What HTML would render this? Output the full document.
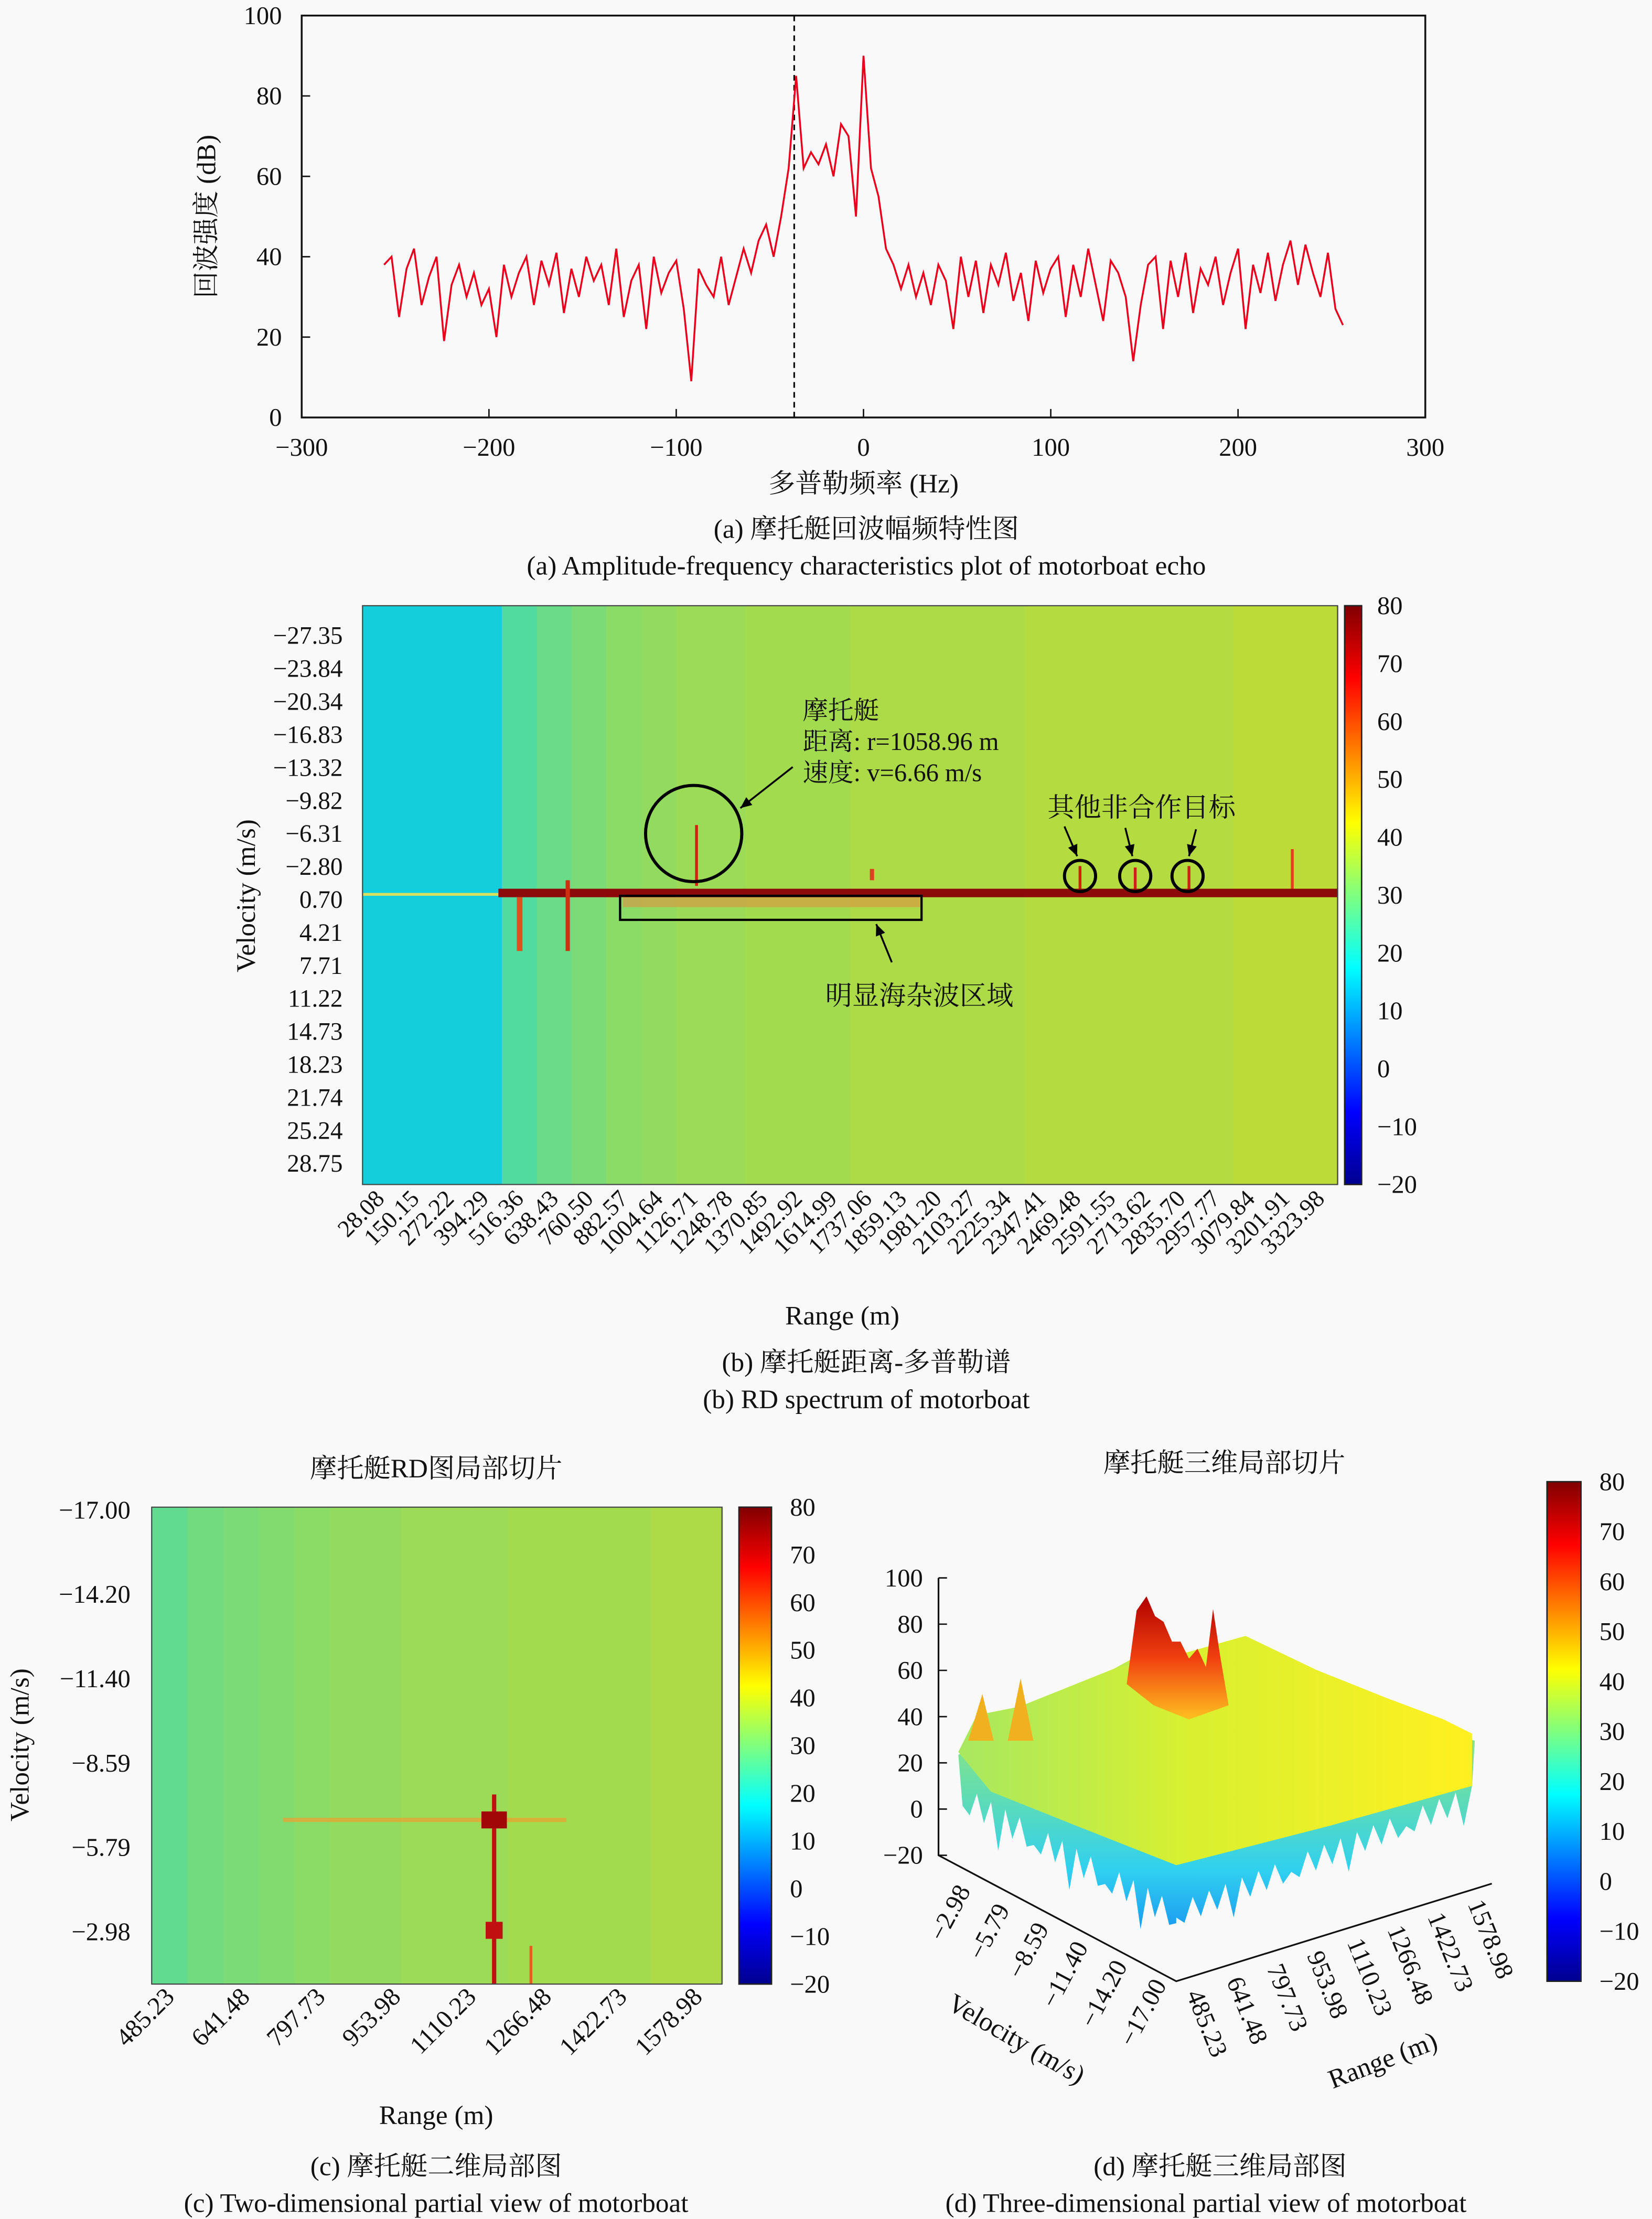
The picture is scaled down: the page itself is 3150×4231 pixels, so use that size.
<!DOCTYPE html>
<html><head><meta charset="utf-8"><style>
html,body{margin:0;padding:0;background:#f9f9f9;}
svg{display:block;}
text{font-family:"Liberation Serif","Noto Serif CJK SC",serif;fill:#111;}
</style></head><body>
<svg id="root" width="3150" height="4231" viewBox="0 0 1167 1568" xmlns="http://www.w3.org/2000/svg">
<defs>
<linearGradient id="jet" x1="0" y1="0" x2="0" y2="1">
<stop offset="0" stop-color="#800000"/><stop offset="0.125" stop-color="#ff0000"/><stop offset="0.375" stop-color="#ffff00"/><stop offset="0.625" stop-color="#00ffff"/><stop offset="0.875" stop-color="#0000ff"/><stop offset="1" stop-color="#00008f"/>
</linearGradient>
<linearGradient id="topface" x1="0" y1="0" x2="1" y2="0">
<stop offset="0" stop-color="#a8e860"/><stop offset="0.45" stop-color="#d8f030"/><stop offset="1" stop-color="#fff020"/>
</linearGradient>
<linearGradient id="skirt" x1="0" y1="0" x2="0" y2="1">
<stop offset="0" stop-color="#c0ec48"/><stop offset="0.4" stop-color="#70e0a0"/><stop offset="0.75" stop-color="#30d0f0"/><stop offset="1" stop-color="#1890f0"/>
</linearGradient>
<linearGradient id="peak" x1="0" y1="0" x2="0" y2="1">
<stop offset="0" stop-color="#b00000"/><stop offset="0.5" stop-color="#f04010"/><stop offset="1" stop-color="#ffc020"/>
</linearGradient>
</defs>
<g id="pa"></g>
<g id="pb"></g>
<g id="pc"></g>
<g id="pd"></g>
</svg>
<script>
// ---------- data ----------
const freqStart = -256, freqStep = 4;
const amplitude = [38,40,25,37,42,28,35,40,19,33,38,30,36,28,32,
20,38,30,36,40,28,39,33,41,26,37,30,40,34,38,
28,42,25,34,38,22,40,31,36,39,27,9,37,33,30,
40,28,35,42,36,44,48,40,50,62,85,62,66,63,68,
60,73,70,50,90,62,55,42,38,32,38,30,36,28,38,
34,22,40,30,39,26,38,33,41,29,36,24,39,31,37,
40,25,38,30,42,33,24,39,36,30,14,28,38,40,22,
39,30,41,26,37,33,40,28,36,42,22,38,31,41,29,
38,44,33,43,36,30,41,27,23];
const xTicksA = [-300,-200,-100,0,100,200,300];
const yTicksA = [0,20,40,60,80,100];
const markerFreq = -37;
const velLabelsB = ["−27.35","−23.84","−20.34","−16.83","−13.32","−9.82","−6.31","−2.80","0.70","4.21","7.71","11.22","14.73","18.23","21.74","25.24","28.75"];
const rangeLabelsB = ["28.08","150.15","272.22","394.29","516.36","638.43","760.50","882.57","1004.64","1126.71","1248.78","1370.85","1492.92","1614.99","1737.06","1859.13","1981.20","2103.27","2225.34","2347.41","2469.48","2591.55","2713.62","2835.70","2957.77","3079.84","3201.91","3323.98"];
const columnMeanB = [16,16,16,16,25,28,30,32,33,34,34,35,35,35,36,36,36,36,36,37,37,37,37,37,37,38,38,38];
const cbTicks = [80,70,60,50,40,30,20,10,0,-10,-20];
const velLabelsC = ["−17.00","−14.20","−11.40","−8.59","−5.79","−2.98"];
const rangeLabelsC = ["485.23","641.48","797.73","953.98","1110.23","1266.48","1422.73","1578.98"];
const columnMeanC = [27,29,30,31,32,33,33,34,34,34,35,35,35,35,36,36];
const zTicksD = [100,80,60,40,20,0,-20];
const velLabelsD = ["−2.98","−5.79","−8.59","−11.40","−14.20","−17.00"];

const NS="http://www.w3.org/2000/svg";
function mk(parent,tag,attrs,txt){const e=document.createElementNS(NS,tag);for(const k in attrs)e.setAttribute(k,attrs[k]);if(txt!==undefined)e.textContent=txt;parent.appendChild(e);return e;}
function jet(v){const t=Math.max(0,Math.min(1,(v+20)/100));const c=x=>255*Math.max(0,Math.min(1,x));
 const m=x=>Math.round(0.85*x+0.15*128);
 return `rgb(${m(c(1.5-Math.abs(4*t-3))*0.95)},${m(c(1.5-Math.abs(4*t-2))*0.92)},${m(c(1.5-Math.abs(4*t-1))*0.92)})`;}

// ---------- panel (a) ----------
const pa=document.getElementById('pa');
const AX0=213,AX1=1007,AY0=295,AY1=11;
const ax=f=>AX0+(f+300)/600*(AX1-AX0);
const ay=v=>AY0-v/100*(AY0-AY1);
let fr=mk(pa,'rect',{x:AX0,y:AY1,width:AX1-AX0,height:AY0-AY1,fill:'none',stroke:'#111','stroke-width':1.3});

xTicksA.forEach(t=>{const l=mk(pa,'line',{x1:ax(t),x2:ax(t),y1:AY0,y2:AY0-6,stroke:'#111','stroke-width':1});

const tx=mk(pa,'text',{x:ax(t),y:AY0+27,'font-size':18,'text-anchor':'middle'},t<0?'−'+(-t):String(t));
});
yTicksA.forEach(t=>{const l=mk(pa,'line',{x1:AX0,x2:AX0+6,y1:ay(t),y2:ay(t),stroke:'#111','stroke-width':1});

const tx=mk(pa,'text',{x:AX0-14,y:ay(t)+6,'font-size':18,'text-anchor':'end'},String(t));
});
let dl=mk(pa,'line',{x1:ax(markerFreq),x2:ax(markerFreq),y1:AY1,y2:AY0,stroke:'#111','stroke-width':1.2,'stroke-dasharray':'4,3'});

let pts=amplitude.map((v,i)=>ax(freqStart+i*freqStep).toFixed(1)+','+ay(v).toFixed(1)).join(' ');
let pl=mk(pa,'polyline',{points:pts,fill:'none',stroke:'#e8001c','stroke-width':1.3});

let t1=mk(pa,'text',{x:152,y:153,'font-size':19,'text-anchor':'middle',transform:'rotate(-90 152 153)'},'回波强度 (dB)');

let t2=mk(pa,'text',{x:610,y:348,'font-size':19,'text-anchor':'middle'},'多普勒频率 (Hz)');

let c1=mk(pa,'text',{x:612,y:380,'font-size':19,'text-anchor':'middle'},'(a) 摩托艇回波幅频特性图');

let c2=mk(pa,'text',{x:612,y:406,'font-size':19,'text-anchor':'middle'},'(a) Amplitude-frequency characteristics plot of motorboat echo');


// ---------- colorbar helper ----------
function colorbar(parent,x,y0,w,y1,lx,fs){
 const r=mk(parent,'rect',{x:x,y:y0,width:w,height:y1-y0,fill:'url(#jet)',stroke:'#222','stroke-width':1});
 
 cbTicks.forEach((t,i)=>{const yy=y0+(80-t)/100*(y1-y0);
  const tx=mk(parent,'text',{x:lx,y:yy+6,'font-size':fs},t<0?'−'+(-t):String(t));
  });
}

// ---------- panel (b) ----------
const pb=document.getElementById('pb');
const BX0=256,BX1=945,BY0=428,BY1=837;
const bw=(BX1-BX0)/columnMeanB.length;
columnMeanB.forEach((v,i)=>{const r=mk(pb,'rect',{x:BX0+i*bw,y:BY0,width:bw+0.6,height:BY1-BY0,fill:jet(v)});
 });
let sl=mk(pb,'line',{x1:BX0,x2:352,y1:632,y2:632,stroke:'#d8e060','stroke-width':2});

let clut=mk(pb,'rect',{x:440,y:631,width:210,height:10,fill:'#e09040',opacity:0.6});

let zl=mk(pb,'rect',{x:352,y:628,width:593,height:6,fill:'#8c0a0a'});

[[367,634,672,'#e05020',4],[401,622,672,'#d03010',3],[492,583,626,'#d02010',2],[763,612,628,'#d02010',2],[802,613,628,'#d02010',2],[840,612,628,'#d02010',2],[913,600,628,'#e04020',2],[616,614,622,'#e04020',3]].forEach(s=>{
 const l=mk(pb,'line',{x1:s[0],x2:s[0],y1:s[1],y2:s[2],stroke:s[3],'stroke-width':s[4]});
 });
let cc=mk(pb,'circle',{cx:490,cy:589,r:34,fill:'none',stroke:'#000','stroke-width':2.2});

[763,802,839].forEach(cx=>{const c=mk(pb,'circle',{cx:cx,cy:619,r:11,fill:'none',stroke:'#000','stroke-width':2.2});
 });
let bx=mk(pb,'rect',{x:438,y:633,width:213,height:17,fill:'none',stroke:'#000','stroke-width':1.6});

function arrow(x1,y1,x2,y2){const g=mk(pb,'g',{});
 mk(g,'line',{x1:x1,y1:y1,x2:x2,y2:y2,stroke:'#000','stroke-width':1.3});
 const a=Math.atan2(y2-y1,x2-x1),L=8,W=3.5;
 const p=[[x2,y2],[x2-L*Math.cos(a)+W*Math.sin(a),y2-L*Math.sin(a)-W*Math.cos(a)],[x2-L*Math.cos(a)-W*Math.sin(a),y2-L*Math.sin(a)+W*Math.cos(a)]];
 mk(g,'polygon',{points:p.map(q=>q.join(',')).join(' '),fill:'#000'});}
arrow(560,542,523,571);arrow(752,584,761,605);arrow(795,585,800,605);arrow(845,586,840,605);arrow(630,680,619,653);
[['摩托艇',567,508],['距离: r=1058.96 m',567,530],['速度: v=6.66 m/s',567,552]].forEach(t=>{
 const e=mk(pb,'text',{x:t[1],y:t[2],'font-size':18},t[0]);});
let oa=mk(pb,'text',{x:740,y:577,'font-size':19},'其他非合作目标');
let ca=mk(pb,'text',{x:583,y:710,'font-size':19},'明显海杂波区域');
let bf=mk(pb,'rect',{x:BX0,y:BY0,width:BX1-BX0,height:BY1-BY0,fill:'none',stroke:'#444','stroke-width':0.8});

velLabelsB.forEach((s,i)=>{const yy=449+i*(822-449)/16;
 const e=mk(pb,'text',{x:242,y:yy+6,'font-size':17.5,'text-anchor':'end'},s);});
rangeLabelsB.forEach((s,i)=>{const xx=BX0+(i+0.5)*bw+4,yy=848;
 const e=mk(pb,'text',{x:xx,y:yy,'font-size':17,'text-anchor':'end',transform:`rotate(-45 ${xx} ${yy})`},s);});
colorbar(pb,950,BY0,12,BY1,973,18);
let vt=mk(pb,'text',{x:180,y:633,'font-size':19,'text-anchor':'middle',transform:'rotate(-90 180 633)'},'Velocity (m/s)');
let rt=mk(pb,'text',{x:595,y:936,'font-size':19,'text-anchor':'middle'},'Range (m)');
let cb1=mk(pb,'text',{x:612,y:969,'font-size':19,'text-anchor':'middle'},'(b) 摩托艇距离-多普勒谱');
let cb2=mk(pb,'text',{x:612,y:995,'font-size':19,'text-anchor':'middle'},'(b) RD spectrum of motorboat');

// ---------- panel (c) ----------
const pc=document.getElementById('pc');
const CX0=107,CX1=510,CY0=1065,CY1=1402;
const cw=(CX1-CX0)/columnMeanC.length;
columnMeanC.forEach((v,i)=>{const r=mk(pc,'rect',{x:CX0+i*cw,y:CY0,width:cw+0.6,height:CY1-CY0,fill:jet(v)});
 });
let hz=mk(pc,'line',{x1:200,x2:400,y1:1286,y2:1286,stroke:'#f0a030','stroke-width':3,opacity:0.7});
let vz=mk(pc,'line',{x1:349,x2:349,y1:1268,y2:CY1,stroke:'#c01010','stroke-width':3});
let vz2=mk(pc,'line',{x1:375,x2:375,y1:1375,y2:CY1,stroke:'#e06020','stroke-width':2});
let bl=mk(pc,'rect',{x:340,y:1280,width:18,height:12,fill:'#a00808'});
let bl2=mk(pc,'rect',{x:343,y:1358,width:12,height:12,fill:'#c01010'});
let cf=mk(pc,'rect',{x:CX0,y:CY0,width:CX1-CX0,height:CY1-CY0,fill:'none',stroke:'#444','stroke-width':0.8});
velLabelsC.forEach((s,i)=>{const yy=1067+i*59.6;
 const e=mk(pc,'text',{x:92,y:yy+6,'font-size':18,'text-anchor':'end'},s);});
rangeLabelsC.forEach((s,i)=>{const xx=124+i*53.3,yy=1412;
 const e=mk(pc,'text',{x:xx,y:yy,'font-size':18,'text-anchor':'end',transform:`rotate(-45 ${xx} ${yy})`},s);});
colorbar(pc,522,CY0,23,CY1,558,18);
let ctt=mk(pc,'text',{x:308,y:1044,'font-size':19,'text-anchor':'middle'},'摩托艇RD图局部切片');
let cvt=mk(pc,'text',{x:20,y:1233,'font-size':19,'text-anchor':'middle',transform:'rotate(-90 20 1233)'},'Velocity (m/s)');
let crt=mk(pc,'text',{x:308,y:1501,'font-size':19,'text-anchor':'middle'},'Range (m)');
let cc1=mk(pc,'text',{x:308,y:1537,'font-size':19,'text-anchor':'middle'},'(c) 摩托艇二维局部图');
let cc2=mk(pc,'text',{x:308,y:1563,'font-size':19,'text-anchor':'middle'},'(c) Two-dimensional partial view of motorboat');

// ---------- panel (d) ----------
const pd=document.getElementById('pd');
let sk=[];sk.push([677,1240]);
for(let i=0;i<=30;i++){const x=680+i*(831-680)/30,y=1262+i*(1345-1262)/30+(i%2?18:0)+(i%5==0?14:0);sk.push([x,y]);}
sk.push([831,1372]);
for(let i=0;i<=36;i++){const x=831+i*(1040-831)/36,y=1345-i*(1345-1262)/36+(i%2?16:0)+(i%7==0?10:0);sk.push([x,y]);}
sk.push([1042,1230]);sk.push([800,1172]);
let skp=mk(pd,'polygon',{points:sk.map(p=>p[0].toFixed(1)+','+p[1].toFixed(1)).join(' '),fill:'url(#skirt)'});

let topFace=mk(pd,'polygon',{points:'677,1238 690,1212 720,1206 760,1190 790,1178 830,1170 880,1156 930,1180 980,1200 1020,1215 1040,1225 1040,1262 940,1290 831,1318 760,1290 700,1266',fill:'url(#topface)'});

let pk=mk(pd,'polygon',{points:'796,1190 803,1138 810,1128 816,1142 822,1146 828,1160 834,1160 840,1172 846,1165 852,1178 857,1137 862,1170 868,1205 840,1215 815,1205',fill:'url(#peak)'});

[[694,1197,684,702],[721,1186,712,730]].forEach(s=>{const p=mk(pd,'polygon',{points:`${s[2]},1230 ${s[0]},${s[1]} ${s[3]},1230`,fill:'#f0b020'});
 });
let zax=mk(pd,'polyline',{points:'663,1115 663,1311 831,1400 1054,1331',fill:'none',stroke:'#111','stroke-width':1.2});

zTicksD.forEach((t,i)=>{const yy=1115+(100-t)/120*196;
 const l=mk(pd,'line',{x1:663,x2:669,y1:yy,y2:yy,stroke:'#111','stroke-width':1});
 const e=mk(pd,'text',{x:652,y:yy+6,'font-size':18,'text-anchor':'end'},t<0?'−'+(-t):String(t));});
velLabelsD.forEach((s,i)=>{const xx=686+i*27.7,yy=1336+i*13.3;
 const e=mk(pd,'text',{x:xx,y:yy,'font-size':18,'text-anchor':'end',transform:`rotate(-62 ${xx} ${yy})`},s);});
rangeLabelsC.forEach((s,i)=>{const xx=838+i*28.4,yy=1409-i*9.1;
 const e=mk(pd,'text',{x:xx,y:yy,'font-size':18,'text-anchor':'start',transform:`rotate(68 ${xx} ${yy})`},s);});
let dvt=mk(pd,'text',{x:718,y:1447,'font-size':19,'text-anchor':'middle',transform:'rotate(30 718 1441)'},'Velocity (m/s)');
let drt=mk(pd,'text',{x:977,y:1462,'font-size':19,'text-anchor':'middle',transform:'rotate(-21 977 1456)'},'Range (m)');
colorbar(pd,1093,1047,24,1400,1130,18);
let dtt=mk(pd,'text',{x:865,y:1040,'font-size':19,'text-anchor':'middle'},'摩托艇三维局部切片');
let dc1=mk(pd,'text',{x:862,y:1537,'font-size':19,'text-anchor':'middle'},'(d) 摩托艇三维局部图');
let dc2=mk(pd,'text',{x:852,y:1563,'font-size':19,'text-anchor':'middle'},'(d) Three-dimensional partial view of motorboat');
</script>
</body></html>
